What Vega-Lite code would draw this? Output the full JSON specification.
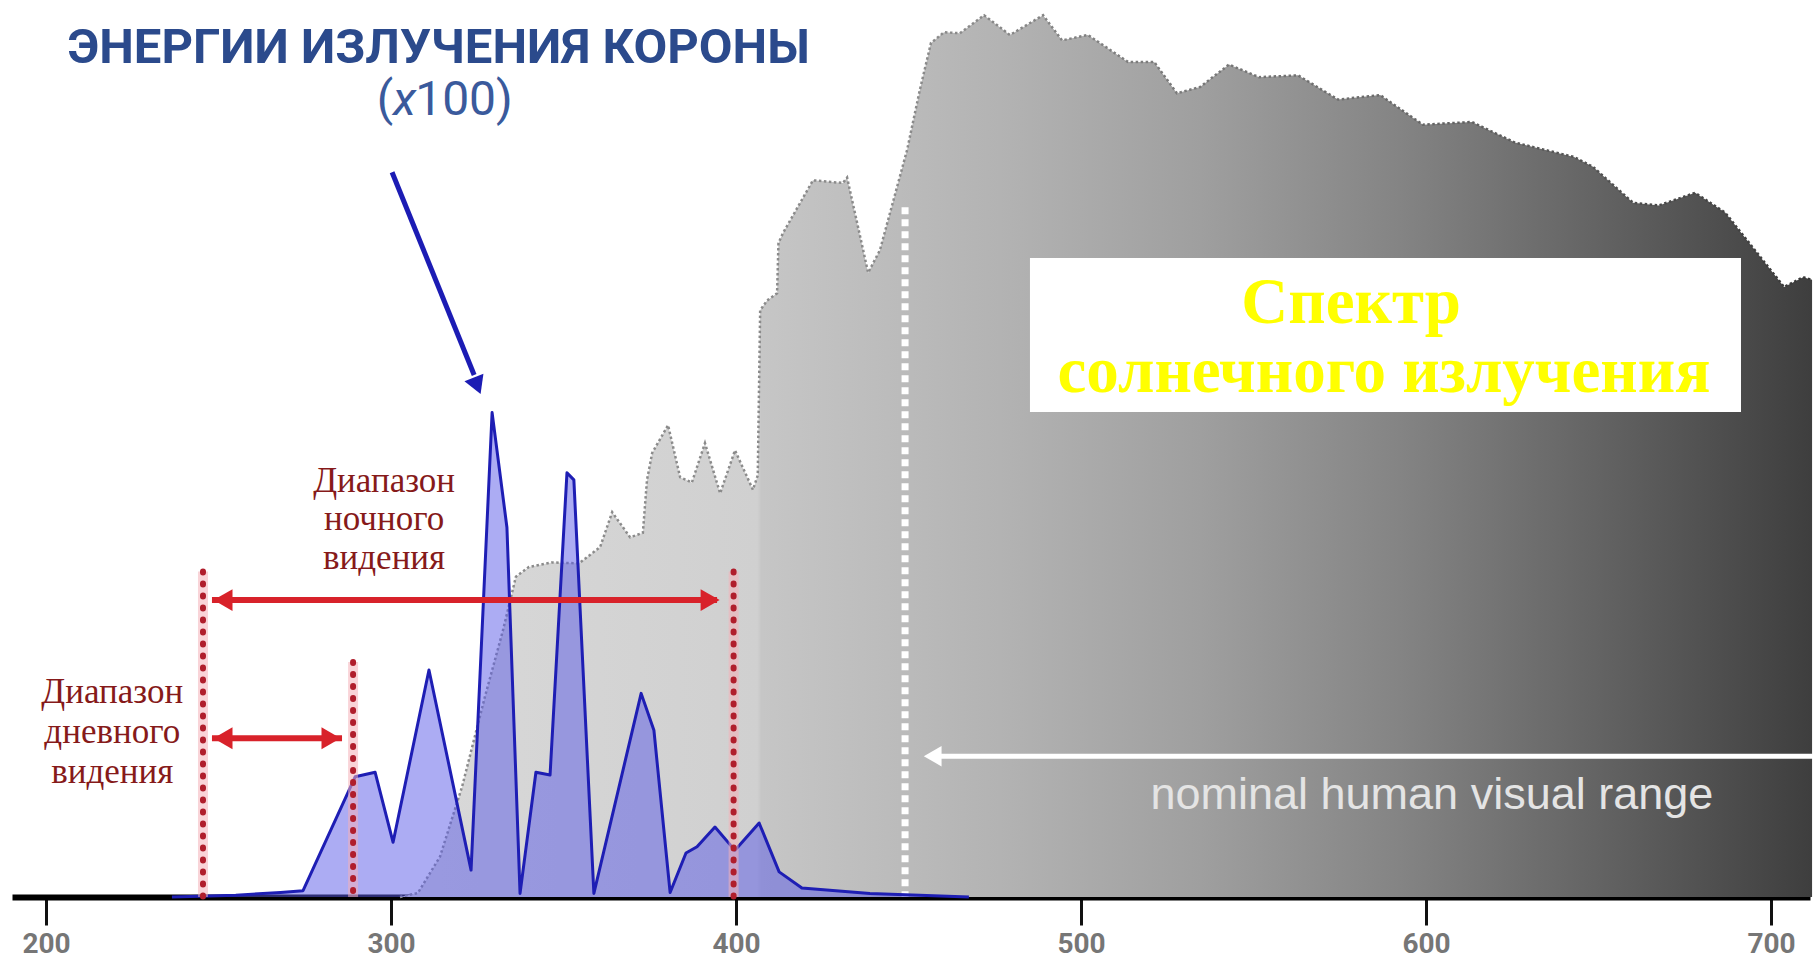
{
  "$schema": "https://vega.github.io/schema/vega-lite/v6.json",
  "autosize": {"type": "none"},
  "padding": {"left": 12, "top": 0, "right": 10, "bottom": 68},
  "width": 1798,
  "height": 897,
  "background": "white",
  "config": {"view": {"stroke": null}},
  "datasets": {
    "solar": [
      {"nm": 302.6, "level": 0}, {"nm": 307.8, "level": 0.45}, {"nm": 314.2, "level": 4.5}, {"nm": 320.6, "level": 12.3},
      {"nm": 327.2, "level": 22.3}, {"nm": 332.5, "level": 29.8}, {"nm": 336.2, "level": 35.7}, {"nm": 340.0, "level": 36.8},
      {"nm": 346.7, "level": 37.3}, {"nm": 354.5, "level": 37.2}, {"nm": 360.6, "level": 39.0}, {"nm": 364.1, "level": 42.9},
      {"nm": 369.3, "level": 40.1}, {"nm": 373.0, "level": 40.6}, {"nm": 374.2, "level": 46.5}, {"nm": 375.7, "level": 49.5},
      {"nm": 380.3, "level": 52.6}, {"nm": 383.8, "level": 46.8}, {"nm": 387.2, "level": 46.2}, {"nm": 391.0, "level": 50.6},
      {"nm": 395.4, "level": 45.0}, {"nm": 399.7, "level": 49.8}, {"nm": 404.9, "level": 45.4}, {"nm": 406.3, "level": 47.0},
      {"nm": 407.0, "level": 65.4}, {"nm": 409.0, "level": 66.5}, {"nm": 411.9, "level": 67.3}, {"nm": 412.3, "level": 72.9},
      {"nm": 413.6, "level": 74.0}, {"nm": 422.3, "level": 79.9}, {"nm": 431.0, "level": 79.6}, {"nm": 432.2, "level": 80.2},
      {"nm": 438.3, "level": 69.6}, {"nm": 441.7, "level": 72.1}, {"nm": 449.6, "level": 83.3}, {"nm": 453.3, "level": 90.0},
      {"nm": 456.5, "level": 95.2}, {"nm": 460.3, "level": 96.4}, {"nm": 464.9, "level": 96.3}, {"nm": 471.9, "level": 98.3},
      {"nm": 479.4, "level": 96.1}, {"nm": 489.0, "level": 98.3}, {"nm": 494.5, "level": 95.5}, {"nm": 502.0, "level": 96.1},
      {"nm": 513.6, "level": 93.1}, {"nm": 521.2, "level": 93.1}, {"nm": 527.8, "level": 89.6}, {"nm": 534.5, "level": 90.3},
      {"nm": 542.9, "level": 92.8}, {"nm": 551.6, "level": 91.4}, {"nm": 562.9, "level": 91.6}, {"nm": 574.5, "level": 88.9},
      {"nm": 586.7, "level": 89.4}, {"nm": 599.1, "level": 86.1}, {"nm": 613.3, "level": 86.4}, {"nm": 625.8, "level": 84.1},
      {"nm": 642.9, "level": 82.5}, {"nm": 648.4, "level": 81.4}, {"nm": 660.0, "level": 77.4}, {"nm": 667.5, "level": 77.1},
      {"nm": 678.0, "level": 78.5}, {"nm": 686.7, "level": 76.3}, {"nm": 703.8, "level": 68.0}, {"nm": 709.3, "level": 69.1},
      {"nm": 711.9, "level": 68.8}
    ],
    "corona": [
      {"nm": 236.5, "level": 0}, {"nm": 255.0, "level": 0.2}, {"nm": 268.0, "level": 0.5}, {"nm": 274.5, "level": 0.7},
      {"nm": 289.6, "level": 13.4}, {"nm": 295.4, "level": 13.9}, {"nm": 300.6, "level": 6.1}, {"nm": 311.0, "level": 25.3},
      {"nm": 323.2, "level": 3.0}, {"nm": 329.3, "level": 54.0}, {"nm": 333.6, "level": 41.2}, {"nm": 337.4, "level": 0.4},
      {"nm": 342.0, "level": 13.9}, {"nm": 346.1, "level": 13.6}, {"nm": 351.0, "level": 47.3}, {"nm": 353.0, "level": 46.5},
      {"nm": 358.8, "level": 0.4}, {"nm": 372.5, "level": 22.7}, {"nm": 376.2, "level": 18.6}, {"nm": 380.9, "level": 0.5},
      {"nm": 385.5, "level": 4.9}, {"nm": 388.7, "level": 5.6}, {"nm": 393.9, "level": 7.8}, {"nm": 399.7, "level": 5.2},
      {"nm": 406.7, "level": 8.25}, {"nm": 412.5, "level": 2.8}, {"nm": 419.1, "level": 1.0}, {"nm": 438.8, "level": 0.4},
      {"nm": 467.5, "level": 0}
    ],
    "bounds": [
      {"nm": 245.5, "level": 36.3},
      {"nm": 289.0, "level": 26.2},
      {"nm": 399.3, "level": 36.3}
    ],
    "ranges": [
      {"range": "night", "nm": 248.1, "nm2": 394.5, "level": 33.1},
      {"range": "day", "nm": 248.1, "nm2": 285.8, "level": 17.7}
    ],
    "rangeHeads": [
      {"dir": "left", "nm": 251.3, "level": 33.1},
      {"dir": "right", "nm": 392.5, "level": 33.1},
      {"dir": "left", "nm": 251.3, "level": 17.7},
      {"dir": "right", "nm": 282.6, "level": 17.7}
    ],
    "rangeLabels": [
      {"nm": 298.0, "level": 45.2, "label": "Диапазон"},
      {"nm": 298.0, "level": 40.9, "label": "ночного"},
      {"nm": 298.0, "level": 36.6, "label": "видения"},
      {"nm": 219.2, "level": 21.6, "label": "Диапазон"},
      {"nm": 219.2, "level": 17.2, "label": "дневного"},
      {"nm": 219.2, "level": 12.7, "label": "видения"}
    ],
    "visual": [
      {"nm": 449.0, "level": 76.9}
    ],
    "visualArrow": [
      {"nm": 458.0, "nm2": 716.0, "level": 15.7}
    ],
    "visualHead": [
      {"nm": 457.0, "level": 15.7}
    ],
    "visualLabel": [
      {"nm": 601.7, "level": 9.8, "label": "nominal human visual range"}
    ],
    "box": [
      {"nm": 485.2, "nm2": 691.3, "level": 54.07, "level2": 71.24}
    ],
    "boxText": [
      {"nm": 578.3, "level": 64.0, "label": "Спектр"},
      {"nm": 587.8, "level": 56.3, "label": "солнечного излучения"}
    ],
    "heading": [
      {"nm": 313.8, "level": 92.98, "label": "ЭНЕРГИИ ИЗЛУЧЕНИЯ КОРОНЫ"}
    ],
    "scaleNote": [
      {"part": "open", "nm": 300.6, "level": 87.2, "label": "("},
      {"part": "x", "nm": 300.6, "level": 87.2, "label": "x"},
      {"part": "rest", "nm": 307.0, "level": 87.2, "label": "100)"}
    ],
    "pointer": [
      {"nm": 300.3, "level": 80.8},
      {"nm": 324.1, "level": 58.2}
    ],
    "pointerHead": [
      {"nm": 325.0, "level": 57.0}
    ]
  },
  "encoding": {
    "x": {
      "field": "nm",
      "type": "quantitative",
      "scale": {"domain": [190.14, 711.3], "nice": false, "zero": false},
      "axis": {
        "values": [200, 300, 400, 500, 600, 700],
        "title": null,
        "grid": false,
        "domainColor": "#000000",
        "domainWidth": 6,
        "tickColor": "#111111",
        "tickWidth": 3,
        "tickSize": 28,
        "labelFont": "Roboto",
        "labelFontSize": 28,
        "labelFontWeight": "bold",
        "labelColor": "#767676",
        "labelPadding": 5,
        "labelFlush": false
      }
    },
    "y": {
      "field": "level",
      "type": "quantitative",
      "scale": {"domain": [0, 100], "nice": false, "zero": true},
      "axis": null
    }
  },
  "layer": [
    {
      "data": {"name": "solar"},
      "mark": {
        "type": "area",
        "color": {
          "gradient": "linear",
          "x1": 0, "y1": 0.5, "x2": 1, "y2": 0.5,
          "stops": [
            {"offset": 0, "color": "#d9d9d9"},
            {"offset": 0.253, "color": "#d0d0d0"},
            {"offset": 0.256, "color": "#c6c6c6"},
            {"offset": 0.425, "color": "#b3b3b3"},
            {"offset": 0.567, "color": "#9f9f9f"},
            {"offset": 0.708, "color": "#848484"},
            {"offset": 0.85, "color": "#636363"},
            {"offset": 1, "color": "#3e3e3e"}
          ]
        }
      }
    },
    {
      "data": {"name": "solar"},
      "mark": {
        "type": "line",
        "strokeWidth": 2.5,
        "strokeDash": [2.5, 2.5],
        "stroke": {
          "gradient": "linear",
          "x1": 0, "y1": 0.5, "x2": 1, "y2": 0.5,
          "stops": [
            {"offset": 0, "color": "#8c8c8c"},
            {"offset": 0.4, "color": "#8a8a8a"},
            {"offset": 0.7, "color": "#6a6a6a"},
            {"offset": 1, "color": "#383838"}
          ]
        }
      }
    },
    {
      "data": {"name": "box"},
      "mark": {"type": "rect", "color": "#ffffff"},
      "encoding": {
        "x2": {"field": "nm2"},
        "y2": {"field": "level2"}
      }
    },
    {
      "data": {"name": "boxText"},
      "mark": {
        "type": "text",
        "font": "Liberation Serif",
        "fontWeight": "bold",
        "fontSize": 65,
        "color": "#ffff00",
        "align": "center",
        "baseline": "alphabetic"
      },
      "encoding": {"text": {"field": "label"}}
    },
    {
      "data": {"name": "visual"},
      "mark": {"type": "rule", "color": "#ffffff", "strokeWidth": 7, "strokeDash": [7, 5]},
      "encoding": {"y2": {"datum": 0}}
    },
    {
      "data": {"name": "visualArrow"},
      "mark": {"type": "rule", "color": "#ffffff", "strokeWidth": 5},
      "encoding": {"x2": {"field": "nm2"}}
    },
    {
      "data": {"name": "visualHead"},
      "mark": {"type": "point", "shape": "triangle-left", "filled": true, "color": "#ffffff", "size": 420, "opacity": 1}
    },
    {
      "data": {"name": "visualLabel"},
      "mark": {
        "type": "text",
        "font": "Liberation Sans",
        "fontSize": 45,
        "color": "#e4e4e4",
        "align": "center",
        "baseline": "alphabetic"
      },
      "encoding": {"text": {"field": "label"}}
    },
    {
      "data": {"name": "corona"},
      "mark": {"type": "area", "color": "#5a5ae8", "opacity": 0.5}
    },
    {
      "data": {"name": "corona"},
      "mark": {"type": "line", "color": "#1e1eb4", "strokeWidth": 3, "strokeJoin": "round"}
    },
    {
      "data": {"name": "corona"},
      "transform": [{"aggregate": [{"op": "min", "field": "nm", "as": "nm"}, {"op": "max", "field": "nm", "as": "nm2"}]}],
      "mark": {"type": "rule", "color": "#1e1ec8", "strokeWidth": 6},
      "encoding": {"x2": {"field": "nm2"}, "y": {"datum": 0}}
    },
    {
      "data": {"name": "bounds"},
      "mark": {"type": "rule", "color": "#f4b0b8", "strokeWidth": 10, "opacity": 0.55},
      "encoding": {"y2": {"datum": 0}}
    },
    {
      "data": {"name": "bounds"},
      "mark": {"type": "rule", "color": "#b01e2c", "strokeWidth": 6, "strokeDash": [1, 11], "strokeCap": "round"},
      "encoding": {"y2": {"datum": 0}}
    },
    {
      "data": {"name": "ranges"},
      "mark": {"type": "rule", "color": "#d8222a", "strokeWidth": 6},
      "encoding": {"x2": {"field": "nm2"}}
    },
    {
      "data": {"name": "rangeHeads"},
      "transform": [{"filter": "datum.dir === 'left'"}],
      "mark": {"type": "point", "shape": "triangle-left", "filled": true, "color": "#d8222a", "size": 480, "opacity": 1}
    },
    {
      "data": {"name": "rangeHeads"},
      "transform": [{"filter": "datum.dir === 'right'"}],
      "mark": {"type": "point", "shape": "triangle-right", "filled": true, "color": "#d8222a", "size": 480, "opacity": 1}
    },
    {
      "data": {"name": "rangeLabels"},
      "mark": {
        "type": "text",
        "font": "Liberation Serif",
        "fontSize": 35,
        "color": "#861a1a",
        "align": "center",
        "baseline": "alphabetic"
      },
      "encoding": {"text": {"field": "label"}}
    },
    {
      "data": {"name": "heading"},
      "mark": {
        "type": "text",
        "font": "Roboto",
        "fontWeight": "bold",
        "fontSize": 49,
        "color": "#2b4a8c",
        "align": "center",
        "baseline": "alphabetic"
      },
      "encoding": {"text": {"field": "label"}}
    },
    {
      "data": {"name": "scaleNote"},
      "transform": [{"filter": "datum.part === 'open'"}],
      "mark": {
        "type": "text",
        "font": "Roboto",
        "fontSize": 48,
        "color": "#3a5a9c",
        "align": "right",
        "baseline": "alphabetic"
      },
      "encoding": {"text": {"field": "label"}}
    },
    {
      "data": {"name": "scaleNote"},
      "transform": [{"filter": "datum.part === 'x'"}],
      "mark": {
        "type": "text",
        "font": "Roboto",
        "fontStyle": "italic",
        "fontSize": 48,
        "color": "#3a5a9c",
        "align": "left",
        "baseline": "alphabetic"
      },
      "encoding": {"text": {"field": "label"}}
    },
    {
      "data": {"name": "scaleNote"},
      "transform": [{"filter": "datum.part === 'rest'"}],
      "mark": {
        "type": "text",
        "font": "Roboto",
        "fontSize": 48,
        "color": "#3a5a9c",
        "align": "left",
        "baseline": "alphabetic"
      },
      "encoding": {"text": {"field": "label"}}
    },
    {
      "data": {"name": "pointer"},
      "mark": {"type": "line", "color": "#1c1cb4", "strokeWidth": 5}
    },
    {
      "data": {"name": "pointerHead"},
      "mark": {"type": "point", "shape": "triangle-down", "angle": -22, "filled": true, "color": "#1c1cb4", "size": 420, "opacity": 1}
    }
  ]
}
